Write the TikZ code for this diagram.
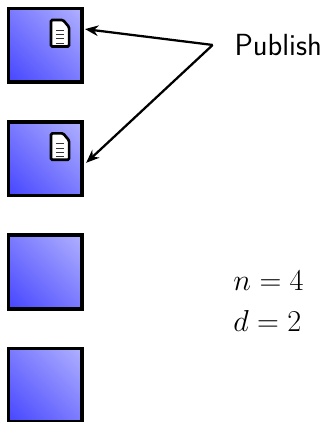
\documentclass[tikz,border=0pt]{standalone}
\usepackage{amsmath}
\usetikzlibrary{positioning,arrows.meta,shadings}
\definecolor{nodelow}{RGB}{70,70,255}
\definecolor{nodehigh}{RGB}{176,176,255}
\pgfdeclareverticalshading{sitefill}{100bp}{color(0bp)=(nodelow); color(14.6bp)=(nodelow); color(85.4bp)=(nodehigh); color(100bp)=(nodehigh)}

\begin{document}
\begin{tikzpicture}[
  site/.style={rectangle, draw=black, line width=0.09cm, shade, shading=sitefill,
               shading angle=-45, minimum width=1.95cm, minimum height=1.95cm},
  lbl/.style={font=\huge, align=left, inner sep=0pt},
  ar/.style={-{Stealth[length=10pt,width=8pt]}, line width=0.06cm, black},
  docicon/.pic={
    \draw[black, fill=white, line width=0.07cm, rounded corners=1pt]
      (-0.24,-0.35) -- (-0.24,0.35) -- (0.08,0.35) -- (0.24,0.16) -- (0.24,-0.35) -- cycle;
    \foreach \y in {0.08,-0.04,-0.15,-0.27}
      \draw[black!80, line width=0.03cm] (-0.11,\y) -- (0.11,\y);
  },
]
\useasboundingbox (0,0) rectangle (8.57,-11.17);

\node[site] (s1) at (1.2,-1.2) {};
\node[site] (s2) at (1.2,-4.2) {};
\node[site] (s3) at (1.2,-7.2) {};
\node[site] (s4) at (1.2,-10.2) {};

\pic at (1.59,-0.88) {docicon};
\pic at (1.59,-3.88) {docicon};

\node[lbl, font=\fontsize{23}{28}\selectfont\sffamily, anchor=west] (pub) at (6.2,-1.2) {Publish};
\coordinate (hub) at (5.63,-1.19);
\node[lbl, scale=1.1, anchor=west] (param) at (6.17,-7.98) {$n=4$\\[3pt]$d=2$};

\draw[ar] (hub) -- ([xshift=0.03cm,yshift=0.43cm]s1.east);
\draw[ar] (hub) -- ([xshift=0.06cm,yshift=-0.11cm]s2.east);
\end{tikzpicture}
\end{document}
